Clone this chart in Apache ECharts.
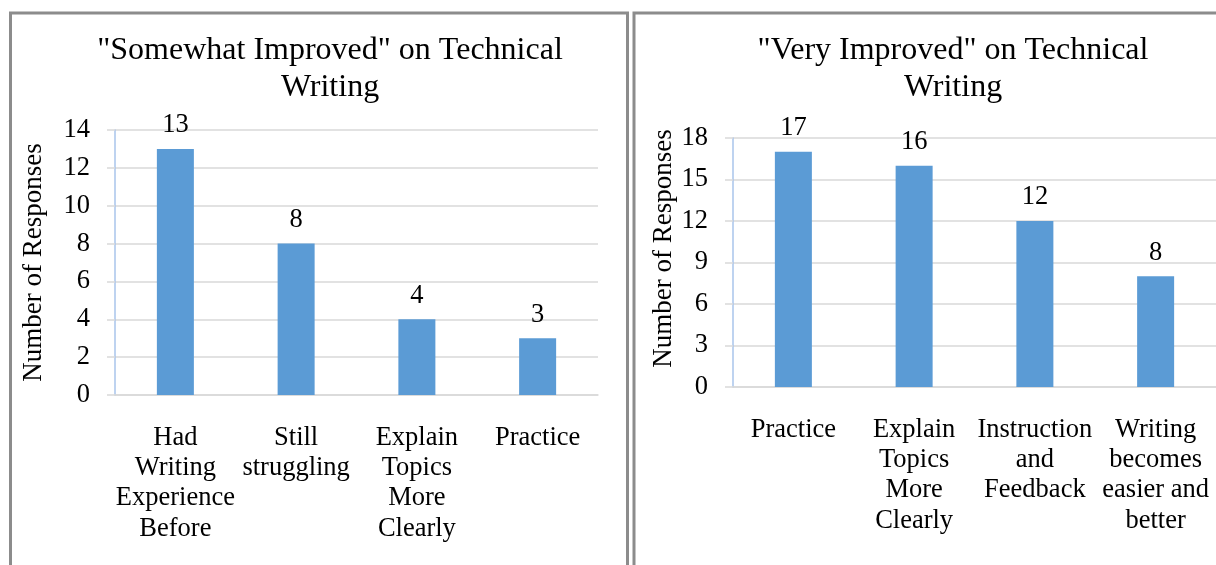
<!DOCTYPE html>
<html>
<head>
<meta charset="utf-8">
<style>
  html, body { margin: 0; padding: 0; background: #fff; }
  #chart { width: 1216px; height: 565px; }
</style>
<script src="https://cdn.jsdelivr.net/npm/echarts@6/dist/echarts.min.js"></script>
</head>
<body>
<div id="chart"></div>
<script>
// Left panel: "Somewhat Improved"
const somewhatCategories = ['Had\nWriting\nExperience\nBefore', 'Still\nstruggling', 'Explain\nTopics\nMore\nClearly', 'Practice'];
const somewhatValues = [13, 8, 4, 3];
const somewhatTicks = { min: 0, max: 14, interval: 2 };

// Right panel: "Very Improved"
const veryCategories = ['Practice', 'Explain\nTopics\nMore\nClearly', 'Instruction\nand\nFeedback', 'Writing\nbecomes\neasier and\nbetter'];
const veryValues = [17, 16, 12, 8];
const veryTicks = { min: 0, max: 18, interval: 3 };

const titles = ['"Somewhat Improved" on Technical\nWriting', '"Very Improved" on Technical\nWriting'];
const axisName = 'Number of Responses';

const FONT = "'Liberation Serif', 'Times New Roman', serif";
const BAR = '#5B9BD5';
const FS = 26.5;

function xAxisFor(idx, cats) {
  return {
    type: 'category', gridIndex: idx, data: cats,
    axisLine: { lineStyle: { color: '#d9d9d9', width: 1.5 } },
    axisTick: { show: false },
    axisLabel: { color: '#000', fontFamily: FONT, fontSize: FS, lineHeight: 30.3, margin: 27.5, interval: 0 }
  };
}
function yAxisFor(idx, ticks, gap, namePad) {
  return {
    type: 'value', gridIndex: idx, min: ticks.min, max: ticks.max, interval: ticks.interval,
    name: axisName, nameLocation: 'middle', nameGap: gap,
    nameTextStyle: { color: '#000', fontFamily: FONT, fontSize: 27, padding: namePad },
    axisLine: { show: true, lineStyle: { color: '#A9C4EB', width: 1.5 } },
    axisTick: { show: true, length: 8, lineStyle: { color: '#d9d9d9', width: 1.5 } },
    splitLine: { lineStyle: { color: '#d9d9d9', width: 1.5 } },
    axisLabel: { color: '#000', fontFamily: FONT, fontSize: FS, margin: 25 }
  };
}
function barSeries(idx, vals) {
  return {
    type: 'bar', xAxisIndex: idx, yAxisIndex: idx, data: vals, barWidth: 37,
    itemStyle: { color: BAR },
    label: { show: true, position: 'top', distance: 10, color: '#000', fontFamily: FONT, fontSize: FS },
    animation: false
  };
}

const chart = echarts.init(document.getElementById('chart'));
chart.setOption({
  animation: false,
  backgroundColor: '#fff',
  title: [
    { text: titles[0], left: 330, top: 32, textAlign: 'center', padding: 0,
      textStyle: { color: '#000', fontFamily: FONT, fontSize: 32, fontWeight: 'normal', lineHeight: 37 } },
    { text: titles[1], left: 953, top: 32, textAlign: 'center', padding: 0,
      textStyle: { color: '#000', fontFamily: FONT, fontSize: 32, fontWeight: 'normal', lineHeight: 37 } }
  ],
  grid: [
    { left: 115, top: 130, width: 483, height: 265 },
    { left: 733, top: 138, width: 485, height: 249 }
  ],
  xAxis: [xAxisFor(0, somewhatCategories), xAxisFor(1, veryCategories)],
  yAxis: [yAxisFor(0, somewhatTicks, 68, 0), yAxisFor(1, veryTicks, 56, [0, 0, 0, 28])],
  series: [barSeries(0, somewhatValues), barSeries(1, veryValues)],
  graphic: [
    { type: 'rect', shape: { x: 10.5, y: 13, width: 617, height: 600 },
      style: { fill: 'none', stroke: '#8c8c8c', lineWidth: 3 }, silent: true },
    { type: 'rect', shape: { x: 634, y: 13, width: 700, height: 600 },
      style: { fill: 'none', stroke: '#8c8c8c', lineWidth: 3 }, silent: true }
  ]
});
</script>
</body>
</html>
